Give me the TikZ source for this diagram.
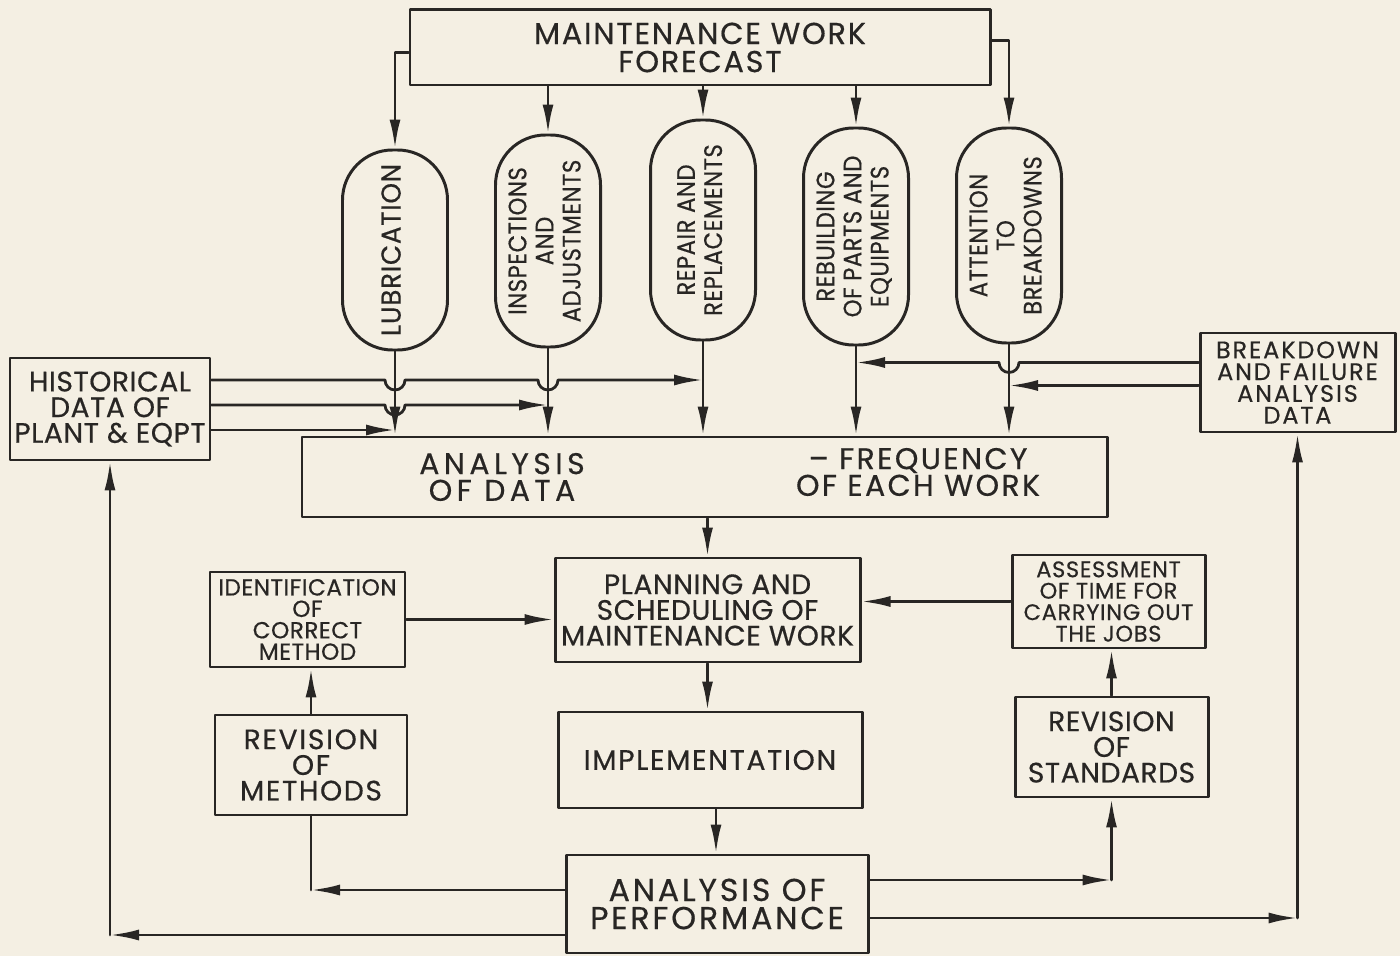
\documentclass[tikz,border=0pt]{standalone}
\usepackage{fontspec}
\setmainfont{Poppins}[FakeBold=0.5]
\usetikzlibrary{calc,arrows.meta}
\definecolor{paper}{RGB}{244,239,227}
\definecolor{ink}{RGB}{40,38,36}
\newcommand{\fs}[3]{\fontsize{#1}{#2}\selectfont\addfontfeature{LetterSpace=#3}}
\tikzset{
	box/.style={draw, line width=0.85pt, align=center, inner sep=1pt},
	pill/.style={draw, line width=0.85pt, rounded corners=5mm, inner sep=1pt, minimum width=1.05cm,
		font=\fs{7.2}{7.7}{2}\addfontfeature{FakeStretch=0.9}},
	txt/.style={align=center, inner sep=0pt},
	big/.style={font=\fs{8}{7.3}{#1}},
	big/.default=2,
	small/.style={font=\fs{6.6}{6.1}{#1}},
	small/.default=2
}
\newcommand{\vtext}[1]{\rotatebox{90}{\begin{tabular}{@{}c@{}}#1\end{tabular}}}

\begin{document}
\begin{tikzpicture}[>={Latex[length=2.9mm,width=1.1mm]}, color=ink, line width=0.8pt, line join=round, line cap=round]
	\def \r{0.1} %hop radius
	\fill[paper] (0,0) rectangle (14,-9.56);
	\useasboundingbox (0,0) rectangle (14,-9.56);
	% top
	\node[box,font=\fs{8.6}{8}{6},minimum width=5.8cm,minimum height=0.75cm] (fc) at (7.00,-0.475) {MAINTENANCE WORK\\FORECAST};
	\node[pill,font=\fs{7.8}{7.7}{3}\addfontfeature{FakeStretch=0.95},minimum height=2.00cm] (lub) at (3.95,-2.50) {\vtext{LUBRICATION}};
	\node[pill,minimum height=2.12cm] (insp) at (5.48,-2.41) {\vtext{INSPECTIONS\\AND\\ADJUSTMENTS}};
	\node[pill,minimum height=2.20cm] (rep) at (7.03,-2.30) {\vtext{REPAIR AND\\REPLACEMENTS}};
	\node[pill,minimum height=2.17cm] (reb) at (8.56,-2.365) {\vtext{REBUILDING\\OF PARTS AND\\EQUIPMENTS}};
	\node[pill,minimum height=2.15cm] (att) at (10.09,-2.355) {\vtext{ATTENTION\\TO\\BREAKDOWNS}};
	\node[box,big,minimum width=2.00cm,minimum height=1.02cm] (hist) at (1.10,-4.09) {HISTORICAL\\DATA OF\\PLANT \& EQPT};
	\node[box,font=\fs{6.8}{6.2}{8},minimum width=1.95cm,minimum height=0.99cm] (brk) at (12.975,-3.825) {BREAKDOWN\\AND FAILURE\\ANALYSIS\\DATA};
	\node[box,minimum width=8.05cm,minimum height=0.80cm] (ana) at (7.045,-4.77) {};
	\node[txt,font=\fs{8.5}{7.6}{15}] (anal) at (5.02,-4.77) {ANALYSIS\\OF DATA};
	\node[txt,font=\fs{8.5}{7.6}{8}] (anar) at (9.18,-4.72) {-- FREQUENCY\\OF EACH WORK};
	% middle
	\node[box,big,minimum width=3.05cm,minimum height=1.04cm] (plan) at (7.075,-6.10) {PLANNING AND\\SCHEDULING OF\\MAINTENANCE WORK};
	\node[box,big=6,minimum width=3.04cm,minimum height=0.96cm] (impl) at (7.10,-7.60) {IMPLEMENTATION};
	\node[box,font=\fs{9}{8}{9},minimum width=3.02cm,minimum height=0.98cm] (perf) at (7.17,-9.04) {ANALYSIS OF\\PERFORMANCE};
	\node[box,small,minimum width=1.95cm,minimum height=0.95cm] (ident) at (3.075,-6.195) {IDENTIFICATION\\OF\\CORRECT\\METHOD};
	\node[box,big=6,minimum width=1.92cm,minimum height=1.00cm] (revm) at (3.11,-7.65) {REVISION\\OF\\METHODS};
	\node[box,font=\fs{6.4}{6.1}{3},minimum width=1.93cm,minimum height=0.93cm] (ass) at (11.085,-6.015) {ASSESSMENT\\OF TIME FOR\\CARRYING OUT\\THE JOBS};
	\node[box,big,minimum width=1.93cm,minimum height=1.00cm] (revs) at (11.115,-7.47) {REVISION\\OF\\STANDARDS};
	% forecast to the works
	\draw[->] ([yshift=-0.5mm]fc.west) -| (lub);
	\draw[->] (fc.south -| insp) -- (insp);
	\draw[->] (fc.south -| rep) -- (rep);
	\draw[->] (fc.south -| reb) -- (reb);
	\draw[->] ([yshift=0.7mm]fc.east) -| (att);
	\foreach \p in {lub,insp,rep,reb,att}
		\draw[->] (\p) -- (\p |- ana.north);
	% data lines
	\coordinate (h1) at ($(hist.east)+(0,0.29)$);
	\coordinate (h2) at ($(hist.east)+(0,0.04)$);
	\coordinate (h3) at ($(hist.east)+(0,-0.21)$);
	\coordinate (b1) at ($(brk.west)+(0,0.20)$);
	\coordinate (b2) at ($(brk.west)+(0,-0.03)$);
	\draw[->] (h1) -- ($(h1-|lub)-(\r,0)$) arc[start angle=180,end angle=360,radius=\r]
		-- ($(h1-|insp)-(\r,0)$) arc[start angle=180,end angle=360,radius=\r] -- (h1-|rep);
	\draw[->] (h2) -- ($(h2-|lub)-(\r,0)$) arc[start angle=180,end angle=360,radius=\r] -- (h2-|insp);
	\draw[->] (h3) -- (h3-|lub);
	\draw[->] (b1) -- ($(b1-|att)+(\r,0)$) arc[start angle=0,end angle=-180,radius=\r] -- (b1-|reb);
	\draw[->] (b2) -- (b2-|att);
	% middle flow
	\draw[->] (ana.south -| plan) -- (plan);
	\draw[->] (plan.south) -- (plan.south |- impl.north);
	\draw[->] ([xshift=0.6mm]impl.south) -- ([xshift=0.6mm]impl.south |- perf.north);
	\draw[->] (ident) -- (ident -| plan.west);
	\draw[->] (ass) -- (ass -| plan.east);
	\draw[->] (revm) -- (revm |- ident.south);
	\draw[->] (revs) -- (revs |- ass.south);
	% feedback
	\coordinate (q1) at ($(perf.west)+(0,0.14)$);
	\coordinate (q2) at ($(perf.west)+(0,-0.31)$);
	\coordinate (q3) at ($(perf.east)+(0,0.24)$);
	\coordinate (q4) at ($(perf.east)+(0,-0.14)$);
	\draw[->] (q1) -- (q1-|revm);
	\draw (q1-|revm) -- (revm);
	\draw[->] (q2) -- (q2-|hist);
	\draw[->] (q2-|hist) -- (hist);
	\draw[->] (q3) -- (q3-|revs);
	\draw[->] (q3-|revs) -- (revs);
	\draw[->] (q4) -- (q4-|brk);
	\draw[->] (q4-|brk) -- (brk);
\end{tikzpicture}
\end{document}
